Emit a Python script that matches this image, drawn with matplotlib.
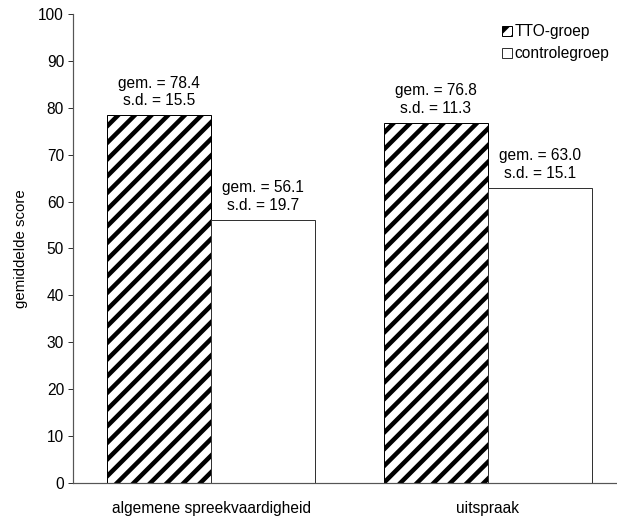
import numpy as np
import matplotlib
matplotlib.use('Agg')
import matplotlib.pyplot as plt

# gegevens
categorieen = ['algemene spreekvaardigheid', 'uitspraak']
tto_gem = [78.4, 76.8]
tto_sd = [15.5, 11.3]
controle_gem = [56.1, 63.0]
controle_sd = [19.7, 15.1]

DPI = 50
def px(v):
    # pixels -> punten
    return v * 72.0 / DPI

plt.rcParams['font.family'] = ['Liberation Sans', 'DejaVu Sans']
plt.rcParams['hatch.linewidth'] = px(4.5)

fig = plt.figure(figsize=(617/DPI, 519/DPI), dpi=DPI)
ax = fig.add_axes([73/617, 36/519, 1 - 73/617, (483 - 14)/519])

x = np.arange(len(categorieen))
w = 104/276
fs = px(15.5)

b1 = ax.bar(x - w/2, tto_gem, w, color='white', edgecolor='black', hatch='/',
            linewidth=px(1), label='TTO-groep')
b2 = ax.bar(x + w/2, controle_gem, w, color='white', edgecolor='#333333',
            linewidth=px(1), label='controlegroep')

#labels boven de staven
for i in range(len(x)):
    ax.annotate('gem. = %.1f\ns.d. = %.1f' % (tto_gem[i], tto_sd[i]),
                (x[i] - w/2, tto_gem[i]), xytext=(0, px(7)), textcoords='offset points',
                ha='center', va='bottom', fontsize=fs, linespacing=1.2)
    ax.annotate('gem. = %.1f\ns.d. = %.1f' % (controle_gem[i], controle_sd[i]),
                (x[i] + w/2, controle_gem[i]), xytext=(0, px(7)), textcoords='offset points',
                ha='center', va='bottom', fontsize=fs, linespacing=1.2)

ax.set_xlim(-0.5, (617 - 212)/276)
ax.set_ylim(0, 100)
ax.set_yticks(np.arange(0, 101, 10))
ax.set_xticks(x)
ax.set_xticklabels(categorieen, fontsize=fs)
ax.tick_params(axis='x', length=0, pad=px(18))
ax.tick_params(axis='y', length=px(5), width=px(1), labelsize=fs, pad=px(4),
               colors='#333333', labelcolor='black')
ax.set_ylabel('gemiddelde score', fontsize=px(15), labelpad=px(10))

ax.spines['top'].set_visible(False)
ax.spines['right'].set_visible(False)
for s in ['left', 'bottom']:
    ax.spines[s].set_color('#555555')
    ax.spines[s].set_linewidth(px(1.2))

ax.legend(loc='upper right', bbox_to_anchor=(1.01, 0.98), bbox_transform=fig.transFigure,
          frameon=False, fontsize=fs, handlelength=0.65, handleheight=0.65,
          handletextpad=0.15, labelspacing=0.45)

fig.savefig('out.png', dpi=DPI)
